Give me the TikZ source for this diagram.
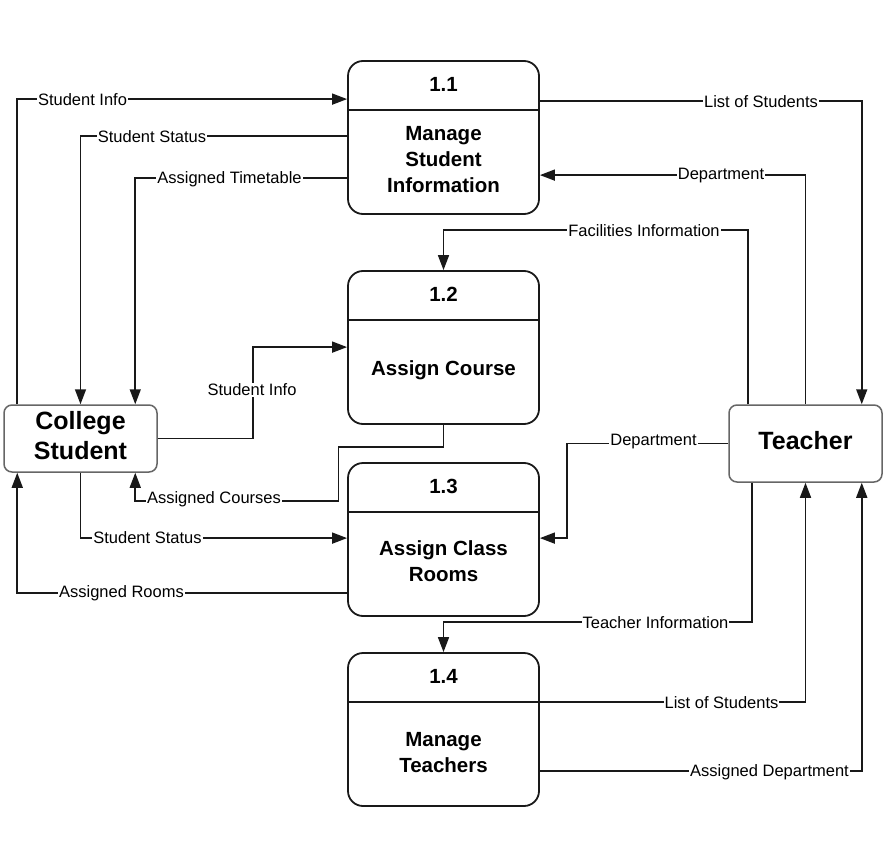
\documentclass[tikz,border=0pt]{standalone}
\usepackage{fontspec}
\setmainfont{Liberation Sans}
\usetikzlibrary{arrows.meta}
\begin{document}
\begin{tikzpicture}[x=1pt,y=-1pt,
  proc/.style={draw=black!90,line width=1.8pt,rounded corners=15pt,minimum width=191pt,minimum height=153pt,inner sep=0pt},
  ent/.style={draw=black!60,line width=1.5pt,rounded corners=8pt,inner sep=0pt,fill=white},
  num/.style={font=\fontsize{20.5}{24}\selectfont\bfseries},
  ttl/.style={font=\fontsize{20.5}{26}\selectfont\bfseries,align=center},
  etx/.style={font=\fontsize{25}{30}\selectfont\bfseries,align=center},
  flow/.style={draw=black!90,line width=1.6pt,-{Triangle[length=15pt,width=11pt]}},
  lab/.style={fill=white,inner sep=1pt,font=\fontsize{16.5}{18}\selectfont}]
\useasboundingbox (0,0) rectangle (883,845);
\fill[white] (0,0) rectangle (883,845);

% process boxes
\node[proc] (p11) at (443.5,137.5) {};
\node[proc] (p12) at (443.5,347.5) {};
\node[proc] (p13) at (443.5,539.5) {};
\node[proc] (p14) at (443.5,729.5) {};
\draw[line width=1.8pt,draw=black!90] ([yshift=-50]p11.north west) -- ([yshift=-50]p11.north east);
\draw[line width=1.8pt,draw=black!90] ([yshift=-50]p12.north west) -- ([yshift=-50]p12.north east);
\draw[line width=1.8pt,draw=black!90] ([yshift=-50]p13.north west) -- ([yshift=-50]p13.north east);
\draw[line width=1.8pt,draw=black!90] ([yshift=-50]p14.north west) -- ([yshift=-50]p14.north east);
\node[num] (n11) at (443.5,84) {1.1};
\node[num] (n12) at (443.5,294) {1.2};
\node[num] (n13) at (443.5,486) {1.3};
\node[num] (n14) at (443.5,676) {1.4};
\node[ttl] (t11) at (443.5,160) {Manage\\Student\\Information};
\node[ttl] (t12) at (443.5,370) {Assign Course};
\node[ttl] (t13) at (443.5,561) {Assign Class\\Rooms};
\node[ttl] (t14) at (443.5,753) {Manage\\Teachers};

% external entities
\node[ent,minimum width=153pt,minimum height=67pt] (cs) at (80.5,438.5) {};
\node[etx] (cst) at (80.5,436) {College\\Student};
\node[ent,minimum width=153pt,minimum height=77pt] (te) at (805.5,443.5) {};
\node[etx] (tet) at (805.5,441) {Teacher};

% connectors: college student side
\draw[flow] ([xshift=14]cs.north west) |- ([yshift=-39]p11.north west);
\draw[flow] ([yshift=-76]p11.north west) -| (cs.north);
\draw[flow] ([yshift=-118]p11.north west) -| ([xshift=132]cs.north west);
\draw[flow] (cs.east) -- ++(95,0) |- ([yshift=-77]p12.north west);
\draw[flow] (p12.south) -- ++(0,22) -- ++(-105,0) |- ([xshift=132,yshift=-28]cs.south west) -- ([xshift=132]cs.south west);
\draw[flow] (cs.south) |- ([yshift=-76]p13.north west);
\draw[flow] ([yshift=-131]p13.north west) -| ([xshift=14]cs.south west);

% connectors: teacher side
\draw[flow] ([yshift=-41]p11.north east) -| ([xshift=-21]te.north east);
\draw[flow] (te.north) |- ([yshift=-115]p11.north east);
\draw[flow] ([xshift=20]te.north west) |- ([yshift=40]p12.north) -- (p12.north);
\draw[flow] (te.west) -- ++(-161,0) |- ([yshift=-76]p13.north east);
\draw[flow] ([xshift=24]te.south west) |- ([yshift=30]p14.north) -- (p14.north);
\draw[flow] ([yshift=-50]p14.north east) -| (te.south);
\draw[flow] ([yshift=-119]p14.north east) -| ([xshift=-21]te.south east);

% labels
\node[lab] (l1) at (82.5,100) {Student Info};
\node[lab] (l2) at (152,137) {Student Status};
\node[lab] (l3) at (229.5,179) {Assigned Timetable};
\node[lab] (l4) at (252,390) {Student Info};
\node[lab] (l5) at (214,499) {Assigned Courses};
\node[lab] (l6) at (147.5,538) {Student Status};
\node[lab] (l7) at (121.5,593) {Assigned Rooms};
\node[lab] (l8) at (761,102) {List of Students};
\node[lab] (l9) at (721,176) {Department};
\node[lab] (l10) at (644,231) {Facilities Information};
\node[lab] (l11) at (653.5,442) {Department};
\node[lab] (l12) at (655.5,623) {Teacher Information};
\node[lab] (l13) at (721.5,703) {List of Students};
\node[lab] (l14) at (769.5,772) {Assigned Department};
\end{tikzpicture}
\end{document}
